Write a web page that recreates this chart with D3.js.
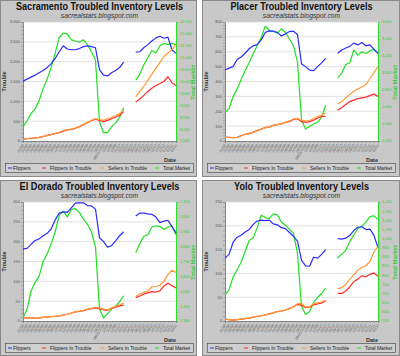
<!DOCTYPE html>
<html><head><meta charset="utf-8">
<script src="https://cdn.jsdelivr.net/npm/d3@7"></script>
<style>
body{margin:0;background:#fff}
svg{display:block}
text{font-family:"Liberation Sans",Arial,Helvetica,sans-serif}
</style>
</head><body>
<svg id="c" width="400" height="356"></svg>
<script>
// ---------- data ----------
const dates = ["01/08","02/08","03/08","04/08","05/08","06/08","07/08","08/08","09/08","10/08",
  "11/08","12/08","01/09","02/09","03/09","04/09","05/09","06/09","07/09","08/09",
  "09/01/2009","10/09","11/09","12/09","01/10","02/10","03/10","04/10","05/10","06/10",
  "07/10","08/10","09/10","10/10","11/10","12/10","01/11","02/11","03/11"];
const seriesNames = ["Flippers","Flippers In Trouble","Sellers In Trouble","Total Market"];

const sacFlippers = [1510,1560,1610,1660,1720,1780,1850,1950,2080,2250,2400,2320,2300,2300,2330,2380,2400,2380,2350,1800,1660,1640,1720,1780,1850,1990,null,null,2240,2250,2350,2430,2520,2600,2640,2590,2620,2300,2210];
const sacFlippersInTrouble = [40,60,70,80,90,110,140,160,190,210,250,280,290,320,360,410,460,510,550,520,490,520,560,600,650,740,null,null,980,1060,1150,1250,1330,1400,1450,1500,1620,1470,1400];
const sacSellersInTrouble = [40,60,70,80,90,110,140,160,190,220,260,290,300,330,370,420,470,520,560,540,520,560,600,640,690,780,null,null,1110,1250,1380,1530,1680,1830,1980,2130,2220,2300,2440];
const sacTotalMarket = [8090,8350,8650,8850,9200,9700,10100,10600,11190,11850,12030,12000,11750,11700,11650,11750,11550,11250,10900,8300,7850,7850,8100,8250,8500,8900,null,null,10060,10300,10700,11000,11300,11200,11500,11600,11550,11600,11550];
const sacLeftTicks = [0,500,1000,1500,2000,2500,3000];
const sacRightTicks = [7500,8000,8500,9000,9500,10000,10500,11000,11500,12000,12500];

const plcFlippers = [477,490,500,548,565,590,620,640,648,680,730,740,738,730,706,720,736,738,716,520,500,477,473,500,525,556,null,null,590,612,625,636,658,646,662,640,646,615,590];
const plcFlippersInTrouble = [25,25,22,25,35,45,50,60,70,80,90,95,105,110,115,125,130,145,150,130,125,130,140,155,165,165,null,null,207,225,245,265,275,285,290,295,305,315,300];
const plcSellersInTrouble = [25,25,22,25,35,45,50,60,70,80,90,95,105,110,115,125,135,148,152,140,135,138,150,165,175,190,null,null,248,265,290,315,335,350,365,380,420,460,500];
const plcTotalMarket = [2530,2580,2720,2810,2920,3030,3120,3230,3320,3420,3550,3500,3490,3470,3520,3480,3400,3320,3130,2450,2340,2370,2400,2420,2480,2620,null,null,2940,3000,3100,3120,3270,3210,3250,3230,3260,3280,3230];
const plcLeftTicks = [0,100,200,300,400,500,600,700,800];
const plcRightTicks = [2200,2400,2600,2800,3000,3200,3400,3600];

const edFlippers = [182,183,193,203,207,215,221,232,255,272,275,274,285,297,298,298,291,290,282,210,200,186,190,202,215,225,null,null,265,272,272,270,269,262,248,252,254,238,222];
const edFlippersInTrouble = [8,8,7,7,8,9,10,11,12,13,15,17,20,23,24,26,29,31,33,31,28,27,32,35,38,40,null,null,59,63,68,71,74,73,76,88,95,89,83];
const edSellersInTrouble = [8,8,7,7,8,9,10,11,12,13,15,17,20,24,25,27,30,32,34,33,30,28,33,37,41,45,null,null,62,68,72,75,86,87,90,100,117,128,122];
const edTotalMarket = [1320,1380,1500,1560,1600,1700,1750,1820,1900,2010,2039,2000,2050,2055,2030,1985,1950,1900,1800,1380,1320,1350,1380,1400,1430,1470,null,null,1760,1820,1870,1880,1930,1940,1935,1915,1930,1940,1880];
const edLeftTicks = [0,50,100,150,200,250,300];
const edRightTicks = [1300,1400,1500,1600,1700,1800,1900,2000,2100];

const yoloFlippers = [132,140,165,176,180,187,192,203,210,212,211,212,204,202,196,194,186,178,168,128,116,115,134,132,140,150,null,null,173,172,174,180,190,197,198,192,193,180,154];
const yoloFlippersInTrouble = [4,3,2,3,4,5,6,8,10,11,13,15,17,20,21,23,26,30,35,33,28,29,34,36,38,42,null,null,58,58,63,72,83,88,95,93,98,101,94];
const yoloSellersInTrouble = [4,3,2,3,4,5,6,8,10,11,13,15,17,20,21,23,26,30,36,37,29,30,36,38,40,44,null,null,68,70,77,88,97,107,113,116,125,145,157];
const yoloTotalMarket = [693,720,790,830,870,930,990,1005,1060,1128,1115,1110,1135,1130,1090,1075,1050,1030,920,630,585,600,650,680,700,730,null,null,894,915,935,985,1020,1055,1068,1090,1120,1125,1105];
const yoloLeftTicks = [0,50,100,150,200,250];
const yoloRightTicks = [550,600,650,700,750,800,850,900,950,1000,1050,1100,1150,1200];

// ---------- styles / layout ----------
const colors = ["#2b2bff","#ff2a2a","#ff9933","#1fe01f"];
const panels = [
  {x:0,y:0,w:197,h:177,title:"Sacramento Troubled Inventory Levels",tw:167,left:sacLeftTicks,right:sacRightTicks,
   s:[sacFlippers,sacFlippersInTrouble,sacSellersInTrouble,sacTotalMarket]},
  {x:202,y:0,w:198,h:177,title:"Placer Troubled Inventory Levels",tw:142,left:plcLeftTicks,right:plcRightTicks,
   s:[plcFlippers,plcFlippersInTrouble,plcSellersInTrouble,plcTotalMarket]},
  {x:0,y:180,w:197,h:176,title:"El Dorado Troubled Inventory Levels",tw:160,left:edLeftTicks,right:edRightTicks,
   s:[edFlippers,edFlippersInTrouble,edSellersInTrouble,edTotalMarket]},
  {x:202,y:180,w:198,h:176,title:"Yolo Troubled Inventory Levels",tw:135,left:yoloLeftTicks,right:yoloRightTicks,
   s:[yoloFlippers,yoloFlippersInTrouble,yoloSellersInTrouble,yoloTotalMarket]}
];
const L=23,R=176,T=22,B=141;
const legendX = [[8,13],[42,50],[100,108],[155,163]];
const fmt = d3.format(",");

const svg = d3.select("#c");
panels.forEach(p=>{
  const g = svg.append("g").attr("transform",`translate(${p.x},${p.y})`);
  g.append("rect").attr("x",0.5).attr("y",0.5).attr("width",p.w-1).attr("height",p.h-1)
    .attr("fill","#c8c8c8").attr("stroke","#8a8a8a");
  g.append("rect").attr("x",L).attr("y",T).attr("width",R-L).attr("height",B-T).attr("fill","#fff");

  const x = d3.scalePoint().domain(dates).range([L,R]);
  const yL = d3.scaleLinear().domain(d3.extent(p.left)).range([B,T]);
  const yR = d3.scaleLinear().domain(d3.extent(p.right)).range([B,T]);

  // gridlines
  g.append("g").selectAll("line").data(p.left.slice(1)).join("line")
    .attr("x1",L).attr("x2",R).attr("y1",d=>yL(d)).attr("y2",d=>yL(d))
    .attr("stroke","#d9d9d9").attr("stroke-width",0.8);

  // left axis
  const lStep = p.left[1]-p.left[0];
  const lMinor = d3.range(p.left[0], p.left[p.left.length-1]+1e-9, lStep/5);
  const la = g.append("g").attr("transform",`translate(${L},0)`)
    .call(d3.axisLeft(yL).tickValues(lMinor).tickSize(2).tickFormat(""));
  la.select(".domain").attr("stroke","#888");
  la.selectAll(".tick line").attr("stroke","#888").attr("stroke-width",0.6);
  g.append("g").selectAll("text").data(p.left).join("text")
    .attr("x",L-3).attr("y",d=>yL(d)+1.4).attr("text-anchor","end")
    .attr("font-size",4).attr("fill","#555").text(d=>fmt(d));

  // right axis
  const rStep = p.right[1]-p.right[0];
  const rMinor = d3.range(p.right[0], p.right[p.right.length-1]+1e-9, rStep/5);
  const ra = g.append("g").attr("transform",`translate(${R},0)`)
    .call(d3.axisRight(yR).tickValues(rMinor).tickSize(2).tickFormat(""));
  ra.select(".domain").attr("stroke","#33dd33");
  ra.selectAll(".tick line").attr("stroke","#33dd33").attr("stroke-width",0.6);
  g.append("g").selectAll("text").data(p.right).join("text")
    .attr("x",R+4).attr("y",d=>yR(d)+1.4).attr("text-anchor","start")
    .attr("font-size",4).attr("fill","#33cc33").text(d=>fmt(d));

  // x axis
  const xa = g.append("g").attr("transform",`translate(0,${B})`)
    .call(d3.axisBottom(x).tickSize(2).tickFormat(""));
  xa.select(".domain").attr("stroke","#888");
  xa.selectAll(".tick line").attr("stroke","#888").attr("stroke-width",0.6);
  g.append("g").selectAll("text").data(dates).join("text")
    .attr("transform",d=>`translate(${x(d)+1},${B+4}) rotate(-58)`)
    .attr("text-anchor","end").attr("font-size",3.6).attr("fill","#555").text(d=>d);

  // axis titles
  g.append("text").attr("transform",`translate(6,${(T+B)/2}) rotate(-90)`)
    .attr("text-anchor","middle").attr("font-size",5.6).attr("font-weight","bold").attr("fill","#333").text("Trouble");
  g.append("text").attr("transform",`translate(${R+19},${(T+B)/2+1}) rotate(-90)`)
    .attr("text-anchor","middle").attr("font-size",6).attr("font-weight","bold").attr("fill","#33cc33").text("Total Market");
  g.append("text").attr("x",R).attr("y",161.5).attr("text-anchor","end")
    .attr("font-size",5.6).attr("font-weight","bold").attr("fill","#333").text("Date");

  // titles
  g.append("text").attr("x",99.5).attr("y",9.5).attr("text-anchor","middle")
    .attr("font-size",10).attr("font-weight","bold").attr("fill","#111")
    .attr("textLength",p.tw).attr("lengthAdjust","spacingAndGlyphs").text(p.title);
  g.append("text").attr("x",99.5).attr("y",18).attr("text-anchor","middle")
    .attr("font-size",6.7).attr("font-style","italic").attr("fill","#333").text("sacrealstats.blogspot.com");

  // lines
  const lineL = d3.line().defined(d=>d!=null).x((d,i)=>x(dates[i])).y(d=>yL(d));
  const lineR = d3.line().defined(d=>d!=null).x((d,i)=>x(dates[i])).y(d=>yR(d));
  const order = [3,0,1,2];
  order.forEach(k=>{
    g.append("path").datum(p.s[k]).attr("fill","none").attr("stroke",colors[k])
      .attr("stroke-width",1.2).attr("stroke-linejoin","round")
      .attr("d", k===3 ? lineR : lineL);
  });

  // legend
  g.append("rect").attr("x",5.5).attr("y",163.5).attr("width",188).attr("height",9)
    .attr("fill","#cfcfcf").attr("stroke","#555").attr("stroke-width",0.7);
  seriesNames.forEach((n,k)=>{
    g.append("line").attr("x1",legendX[k][0]).attr("x2",legendX[k][0]+4).attr("y1",168).attr("y2",168)
      .attr("stroke",colors[k]).attr("stroke-width",1);
    g.append("text").attr("x",legendX[k][1]).attr("y",169.8).attr("font-size",5).attr("fill","#222").text(n);
  });
});
</script>
</body></html>
